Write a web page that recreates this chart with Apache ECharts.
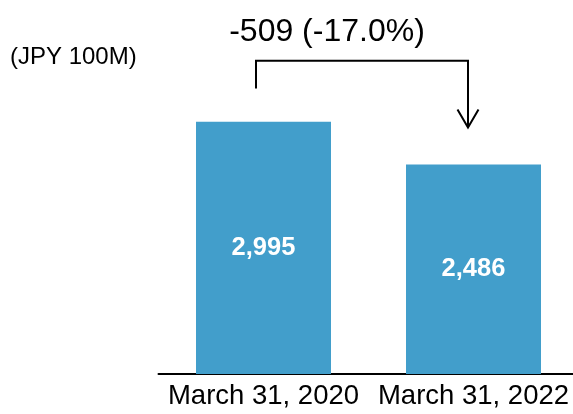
<!DOCTYPE html>
<html>
<head>
<meta charset="utf-8">
<script src="https://cdn.jsdelivr.net/npm/echarts@6/dist/echarts.min.js"></script>
<style>html,body{margin:0;padding:0;background:#fff;}#c{width:573px;height:414px;}</style>
</head>
<body>
<div id="c"></div>
<script>
var categories = ['March 31, 2020', 'March 31, 2022'];
var values = [2995, 2486];
var unitLabel = '(JPY 100M)';
var changeLabel = '-509 (-17.0%)';
// bracket levels in data units: start of left leg, top bar, arrow tip
var bracketStart = 3390;
var bracketTop = 3720;
var arrowTip = 2925;

var FONT = 'Liberation Sans, Arial, sans-serif';
var chart = echarts.init(document.getElementById('c'));
chart.setOption({
  animation: false,
  grid: {left: 158.5, right: -5.5, top: 121.3, bottom: 40, containLabel: false, outerBoundsMode: 'none'},
  xAxis: {
    type: 'category', data: categories,
    axisLine: {lineStyle: {color: '#000', width: 2}},
    axisTick: {show: false},
    axisLabel: {color: '#000', fontSize: 27.5, fontFamily: FONT, margin: 8, interval: 0}
  },
  yAxis: {type: 'value', min: 0, max: 3000, show: false, splitLine: {show: false}},
  series: [{
    type: 'bar', data: values, barWidth: 135,
    itemStyle: {color: '#429ECB'},
    label: {show: true, position: 'inside', color: '#fff', fontWeight: 'bold', fontSize: 25.5, fontFamily: FONT,
      formatter: function(p){ return p.value.toLocaleString('en-US'); }}
  }]
});

var p1 = chart.convertToPixel({gridIndex: 0}, [0, bracketStart]);
var p2 = chart.convertToPixel({gridIndex: 0}, [1, bracketTop]);
var pt = chart.convertToPixel({gridIndex: 0}, [1, arrowTip]);
var xl = p1[0] - 7.5, xr = p2[0] - 5.5;
var yTop = p2[1], yStart = p1[1], yTip = pt[1];
chart.setOption({
  graphic: [
    {type: 'text', left: 10, top: 45, style: {text: unitLabel, fontSize: 24, fontFamily: FONT, fill: '#000'}},
    {type: 'text', x: xl + 71, y: 32, style: {text: changeLabel, fontSize: 32, fontFamily: FONT, fill: '#000', align: 'center', verticalAlign: 'middle'}},
    {type: 'polyline', shape: {points: [[xl, yStart], [xl, yTop], [xr, yTop], [xr, yTip]]}, style: {stroke: '#000', lineWidth: 2, fill: null}},
    {type: 'polyline', shape: {points: [[xr - 10.5, yTip - 18], [xr, yTip], [xr + 10.5, yTip - 18]]}, style: {stroke: '#000', lineWidth: 2, fill: null}}
  ]
});
</script>
</body>
</html>
